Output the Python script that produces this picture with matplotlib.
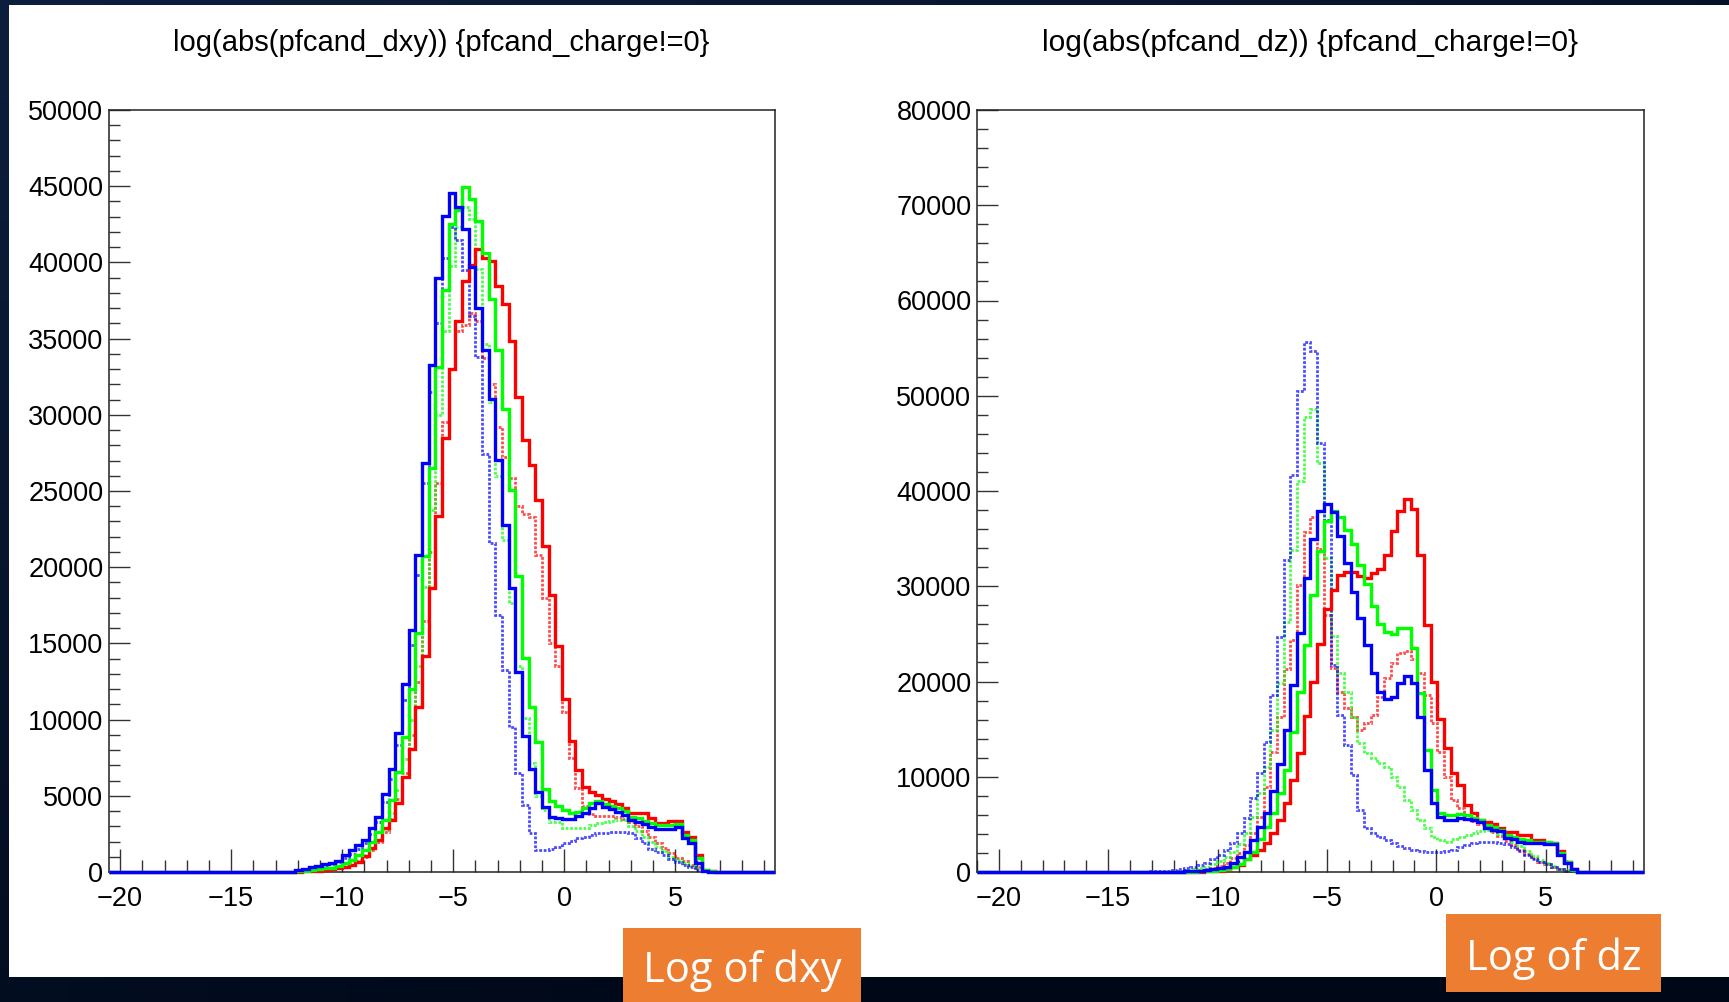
#!/usr/bin/env python3
"""Two ROOT-style impact-parameter histograms on a slide background."""

import matplotlib

matplotlib.use("Agg")
import matplotlib.pyplot as plt
import numpy as np
from matplotlib.patches import Rectangle
from matplotlib.ticker import MultipleLocator

# ---- binning (ROOT auto-binning, 100 bins) ----
DXY_RANGE = (-20.5, 9.5)
DZ_RANGE = (-21.0, 9.5)
N_BINS = 100

# ---- log|dxy| : counts for bins 28..92 (left edges -12.1 ... 7.1) ----
DXY_FIRST_BIN = 28
dxy_blue = [150, 220, 300, 400, 500, 610, 750, 1100, 1450, 1770, 2100, 2860, 3630, 5090,
            6780, 9100, 12330, 15880, 20800, 26850, 33260, 38990, 43050, 44560, 43640,
            42160, 39710, 37020, 34240, 31030, 27030, 22760, 18610, 13140, 8920, 6735,
            5270, 4240, 3630, 3520, 3500, 3500, 3670, 3850, 4175, 4500, 4240, 4110, 3915,
            3740, 3410, 3300, 3150, 2970, 2800, 2800, 2850, 2970, 2210, 1880, 570, 85, 20,
            0, 0]
dxy_green = [60, 90, 130, 180, 230, 280, 394, 570, 790, 1115, 1440, 1990, 2645, 3410,
             4720, 6580, 8880, 11985, 15700, 20730, 26480, 33150, 38180, 42550, 43470,
             44960, 44190, 42730, 40590, 37630, 34240, 30350, 25060, 19420, 14070, 10800,
             8550, 5425, 4660, 4330, 4070, 3890, 3960, 4175, 4505, 4660, 4460, 4330, 4175,
             4020, 3630, 3520, 3365, 3195, 3060, 3060, 3100, 3150, 2430, 2100, 900, 130, 80,
             0, 0]
dxy_red = [30, 45, 65, 90, 130, 175, 240, 350, 460, 678, 1050, 1553, 2100, 2864, 3410,
           4505, 6250, 8050, 10845, 14190, 18610, 23350, 28510, 32980, 36170, 38770, 39820,
           40850, 40300, 40080, 38440, 37240, 34850, 31140, 28340, 26700, 24400, 21400,
           18170, 14860, 11340, 8615, 6670, 5580, 5240, 5070, 4780, 4660, 4460, 4175, 3850,
           3850, 3850, 3520, 3195, 3195, 3345, 3345, 2645, 2275, 1115, 130, 80, 0, 0]
dxy_blue_dot = [100, 150, 220, 300, 400, 500, 650, 900, 1200, 1500, 1900, 2500, 3300,
                4600, 6100, 8330, 11280, 14890, 19480, 25500, 31500, 36000, 40300, 42300,
                41500, 39500, 36500, 33800, 27460, 21560, 16860, 13250, 9530, 6470, 4395,
                2540, 1443, 1443, 1530, 1650, 1880, 2050, 2200, 2320, 2430, 2540, 2540,
                2650, 2650, 2650, 2540, 2200, 1880, 1530, 1310, 1090, 875, 660, 440, 330,
                160, 70, 20, 0, 0]
dxy_green_dot = [30, 50, 70, 100, 150, 210, 300, 420, 580, 800, 1100, 1550, 2100, 2800,
                 3900, 5400, 7400, 10000, 13500, 18720, 23750, 30000, 35500, 39750, 42330,
                 43650, 42880, 39535, 34615, 30855, 26000, 21780, 17650, 13500, 10080, 7130,
                 5000, 4070, 3300, 3300, 2865, 2865, 2865, 2900, 3100, 3195, 3250, 3350,
                 3410, 3410, 3000, 2700, 2315, 2000, 1660, 1350, 1000, 800, 570, 400, 240,
                 80, 20, 0, 0]
dxy_red_dot = [20, 35, 55, 80, 120, 170, 240, 340, 480, 700, 1000, 1450, 2000, 2600, 3500,
               4800, 6500, 9000, 12500, 16500, 21000, 25500, 29500, 33000, 35500, 35880,
               36700, 36170, 33700, 32000, 29215, 27245, 25825, 24000, 23500, 23310, 20795,
               18000, 15000, 13500, 10500, 7500, 5500, 4300, 3800, 3700, 3650, 3650, 3600,
               3500, 3300, 3000, 2700, 2300, 1900, 1550, 1250, 950, 700, 480, 300, 150, 60,
               15, 0]

# ---- log|dz| : counts for bins 26..92 (left edges -13.07 ... 7.06) ----
DZ_FIRST_BIN = 26
dz_blue = [10, 15, 20, 28, 35, 70, 105, 140, 210, 280, 385, 560, 980, 1540, 2135, 3360,
           4760, 6230, 8540, 11340, 14910, 19635, 25060, 30835, 34930, 37940, 38605, 37765,
           35315, 32480, 29435, 26705, 23835, 20860, 18935, 18165, 18410, 19880, 20580,
           19810, 16310, 10710, 7210, 5810, 5460, 5460, 5635, 5600, 5460, 5300, 4600, 4410,
           4300, 3600, 3500, 3100, 3050, 3010, 3000, 2980, 2900, 1785, 910, 280, 40, 0, 0]
dz_green = [5, 8, 12, 16, 22, 30, 45, 65, 95, 140, 210, 320, 520, 850, 1330, 2135, 3430,
            4690, 6160, 8260, 10710, 14735, 18880, 23835, 29085, 33690, 36840, 37890, 37310,
            35910, 34405, 32235, 30205, 27930, 26050, 25200, 24940, 25640, 25640, 23485,
            18760, 12810, 8610, 6230, 5985, 5985, 6100, 6000, 5700, 5500, 4900, 4700, 4450,
            3900, 3700, 3450, 3350, 3200, 3150, 3100, 3000, 2000, 1000, 200, 40, 0, 0]
dz_red = [3, 5, 7, 10, 14, 20, 28, 40, 60, 90, 140, 250, 560, 735, 1330, 1785, 2310, 3080,
          4060, 5460, 7210, 9660, 12530, 16380, 19985, 23900, 27600, 29650, 31130, 31535,
          31535, 31100, 30870, 31360, 31830, 33285, 35790, 37920, 39165, 38100, 33285,
          25935, 19985, 16030, 12985, 10360, 9135, 7000, 6160, 5460, 5250, 5040, 4585,
          4235, 4235, 3885, 3885, 3360, 3360, 3080, 3080, 2240, 1085, 280, 40, 0, 0]
dz_blue_dot = [70, 105, 140, 210, 280, 385, 560, 735, 980, 1330, 1785, 2310, 3010, 4060,
               5635, 7735, 10360, 13685, 18585, 24710, 32760, 41690, 50505, 55685, 54740,
               45080, 36960, 21700, 16485, 13335, 10185, 6510, 4585, 4060, 3710, 3360, 3080,
               2730, 2485, 2310, 2240, 2135, 2065, 2065, 2170, 2345, 2590, 2870, 3000, 3100,
               3150, 3150, 3050, 2900, 2600, 2200, 1800, 1400, 1100, 800, 500, 300, 150, 80,
               30, 0, 0]
dz_green_dot = [20, 35, 50, 70, 140, 210, 280, 385, 560, 840, 1190, 1610, 2135, 2940,
                4060, 5810, 8260, 11060, 14910, 19810, 26285, 33810, 41100, 47810, 48630,
                42910, 32935, 24800, 20860, 18935, 16310, 13510, 12460, 11935, 11410, 11060,
                10010, 8960, 7560, 6510, 5460, 4585, 3710, 3360, 3185, 3430, 3640, 3885,
                4100, 4300, 4400, 4300, 4000, 3600, 3200, 2700, 2200, 1700, 1300, 900, 600,
                350, 180, 80, 30, 0, 0]
dz_red_dot = [10, 15, 25, 35, 50, 70, 140, 210, 315, 455, 665, 980, 1435, 1960, 2835,
              4060, 5810, 8960, 12635, 16310, 21280, 24360, 30135, 35735, 37310, 33880,
              27000, 21385, 18935, 17185, 16310, 14910, 15610, 16485, 18410, 20335, 21910,
              22960, 23240, 22330, 20930, 18585, 15610, 12635, 10010, 7560, 6685, 5985,
              5400, 5000, 4600, 4200, 3800, 3300, 2800, 2300, 1900, 1500, 1100, 800, 500,
              300, 150, 60, 20, 0, 0]

TITLES = ["log(abs(pfcand_dxy)) {pfcand_charge!=0}", "log(abs(pfcand_dz)) {pfcand_charge!=0}"]
TAGS = ["Log of dxy", "Log of dz"]

BLUE, GREEN, RED = "#0000ff", "#00ff00", "#ff0000"
W, H = 1729, 1002


def full_hist(partial, first_bin):
    counts = np.zeros(N_BINS)
    counts[first_bin:first_bin + len(partial)] = partial
    return counts


def draw_panel(ax, edges, solids, dotted, ymax, ymajor, yminor):
    for vals, col in dotted:
        ax.stairs(vals, edges, color=col, lw=2.0, ls=(0, (1.0, 0.6)), alpha=0.7,
                  baseline=0, clip_on=False, zorder=2)
    for vals, col in solids:
        ax.stairs(vals, edges, color=col, lw=2.4, baseline=0, clip_on=False, zorder=3)
    ax.set_xlim(edges[0], edges[-1])
    ax.set_ylim(0, ymax)
    ax.xaxis.set_major_locator(MultipleLocator(5))
    ax.xaxis.set_minor_locator(MultipleLocator(1))
    ax.yaxis.set_major_locator(MultipleLocator(ymajor))
    ax.yaxis.set_minor_locator(MultipleLocator(yminor))
    ax.tick_params(which="both", direction="in", top=False, right=False,
                   labelsize=19.5, width=1.0, color="#333333")
    ax.tick_params(axis="y", which="major", length=15, pad=4)
    ax.tick_params(axis="y", which="minor", length=7.7)
    ax.tick_params(axis="x", which="major", length=16.5, pad=10)
    ax.tick_params(axis="x", which="minor", length=8.6)
    for s in ax.spines.values():
        s.set_linewidth(1.1)
        s.set_color("#222222")
    ax.set_facecolor("white")
    for lab in ax.get_xticklabels() + ax.get_yticklabels():
        lab.set_fontfamily(["Liberation Sans", "DejaVu Sans"])


def main():
    fig = plt.figure(figsize=(W / 100, H / 100), dpi=100)

    # slide background: dark navy gradient with a white content area
    bg = fig.add_axes([0, 0, 1, 1], zorder=-10)
    gy, gx = np.mgrid[0:1:50j, 0:1:50j]
    t = np.clip(0.55 * gx + 0.75 * gy, 0, 1)[..., None]
    top = np.array([0.05, 0.12, 0.24])
    bottom = np.array([0.0, 0.03, 0.09])
    bg.imshow(top * (1 - t) + bottom * t, extent=[0, 1, 0, 1], aspect="auto", origin="upper")
    bg.add_patch(Rectangle((9 / W, (H - 977) / H), 1, (977 - 5) / H, facecolor="white",
                           edgecolor="none"))
    bg.set_xlim(0, 1)
    bg.set_ylim(0, 1)
    bg.axis("off")

    dxy_edges = np.linspace(*DXY_RANGE, N_BINS + 1)
    dz_edges = np.linspace(*DZ_RANGE, N_BINS + 1)

    ax1 = fig.add_axes([109 / W, (H - 872) / H, 666 / W, 762 / H])
    draw_panel(
        ax1, dxy_edges,
        solids=[(full_hist(dxy_red, DXY_FIRST_BIN), RED),
                (full_hist(dxy_green, DXY_FIRST_BIN), GREEN),
                (full_hist(dxy_blue, DXY_FIRST_BIN), BLUE)],
        dotted=[(full_hist(dxy_red_dot, DXY_FIRST_BIN), RED),
                (full_hist(dxy_green_dot, DXY_FIRST_BIN), GREEN),
                (full_hist(dxy_blue_dot, DXY_FIRST_BIN), BLUE)],
        ymax=50000, ymajor=5000, yminor=1000,
    )

    ax2 = fig.add_axes([977 / W, (H - 872) / H, 667 / W, 762 / H])
    draw_panel(
        ax2, dz_edges,
        solids=[(full_hist(dz_red, DZ_FIRST_BIN), RED),
                (full_hist(dz_green, DZ_FIRST_BIN), GREEN),
                (full_hist(dz_blue, DZ_FIRST_BIN), BLUE)],
        dotted=[(full_hist(dz_red_dot, DZ_FIRST_BIN), RED),
                (full_hist(dz_green_dot, DZ_FIRST_BIN), GREEN),
                (full_hist(dz_blue_dot, DZ_FIRST_BIN), BLUE)],
        ymax=80000, ymajor=10000, yminor=2000,
    )

    title_font = ["Liberation Sans", "DejaVu Sans"]
    fig.text(441 / W, 1 - 43 / H, TITLES[0], ha="center", va="center", fontsize=21,
             family=title_font, color="black")
    fig.text(1310 / W, 1 - 43 / H, TITLES[1], ha="center", va="center", fontsize=21.6,
             family=title_font, color="black")

    # orange slide tags
    orange = "#ed7d31"
    for (x0, x1, y0, y1), tag in zip([(623, 861, 928, 1002), (1446, 1661, 914, 992)], TAGS):
        fig.add_artist(Rectangle((x0 / W, 1 - y1 / H), (x1 - x0) / W, (y1 - y0) / H,
                                 transform=fig.transFigure, facecolor=orange,
                                 edgecolor="none", zorder=5))
        fig.text((x0 + x1) / 2 / W, 1 - ((y0 + y1) / 2 + 6) / H, tag, ha="center",
                 va="center", fontsize=30, color="white", family=["Open Sans", "DejaVu Sans"],
                 zorder=6)

    fig.savefig("out.png", dpi=100, facecolor=fig.get_facecolor())
    plt.close(fig)


if __name__ == "__main__":
    main()
